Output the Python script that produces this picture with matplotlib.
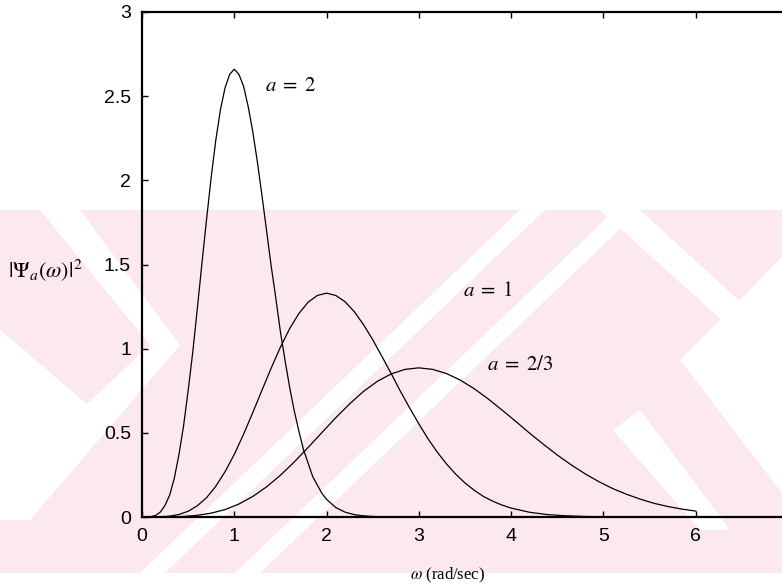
import matplotlib
matplotlib.use('Agg')
import matplotlib.pyplot as plt
from matplotlib.patches import Rectangle, Polygon

plt.rcParams['mathtext.fontset'] = 'stix'
plt.rcParams['font.family'] = 'Liberation Sans'

# curve values
w_a2 = [0.0, 0.1, 0.15, 0.2, 0.25, 0.3, 0.35, 0.4, 0.45, 0.5, 0.55, 0.6, 0.65, 0.7, 0.75, 0.8, 0.85,
        0.9, 0.95, 1.0, 1.05, 1.1, 1.15, 1.2, 1.25, 1.3, 1.35, 1.4, 1.45, 1.5, 1.55, 1.6, 1.65,
        1.7, 1.75, 1.8, 1.85, 1.9, 1.95, 2.0, 2.1, 2.2, 2.3, 2.4, 2.5, 2.6, 3.0, 4.0, 5.0, 6.0]
y_a2 = [0.0, 0.002, 0.01, 0.03, 0.07, 0.13, 0.23, 0.37, 0.54, 0.75, 0.98, 1.24, 1.51, 1.77, 2.02, 2.24, 2.42,
        2.55, 2.63, 2.66, 2.63, 2.56, 2.44, 2.29, 2.11, 1.91, 1.70, 1.49, 1.30, 1.10, 0.93, 0.77, 0.63,
        0.51, 0.40, 0.32, 0.24, 0.19, 0.14, 0.105, 0.056, 0.029, 0.014, 0.007, 0.003, 0.001, 0.0, 0.0, 0.0, 0.0]

w_a1 = [0.0, 0.1, 0.2, 0.3, 0.4, 0.5, 0.6, 0.7, 0.8, 0.9, 1.0, 1.1, 1.2, 1.3, 1.4, 1.5, 1.6, 1.7,
        1.8, 1.9, 2.0, 2.1, 2.2, 2.3, 2.4, 2.5, 2.6, 2.7, 2.8, 2.9, 3.0, 3.1, 3.2, 3.3, 3.4, 3.5,
        3.6, 3.7, 3.8, 3.9, 4.0, 4.2, 4.4, 4.6, 4.8, 5.0, 5.5, 6.0]
y_a1 = [0.0, 0.0, 0.001, 0.005, 0.015, 0.034, 0.067, 0.115, 0.183, 0.269, 0.372, 0.491, 0.62, 0.753, 0.885, 1.009, 1.119, 1.209,
        1.276, 1.316, 1.33, 1.316, 1.279, 1.22, 1.143, 1.053, 0.954, 0.852, 0.747, 0.648, 0.553, 0.464, 0.385, 0.315, 0.254, 0.202,
        0.159, 0.122, 0.094, 0.071, 0.053, 0.028, 0.014, 0.007, 0.003, 0.001, 0.0, 0.0]

w_a23 = [0.0, 0.15, 0.3, 0.45, 0.6, 0.75, 0.9, 1.05, 1.2, 1.35, 1.5, 1.65, 1.8, 1.95, 2.1, 2.25, 2.4,
         2.55, 2.7, 2.85, 3.0, 3.15, 3.3, 3.45, 3.6, 3.75, 3.9, 4.05, 4.2, 4.35, 4.5, 4.65, 4.8,
         4.95, 5.1, 5.25, 5.4, 5.55, 5.7, 5.85, 6.0]
y_a23 = [0.0, 0.0, 0.001, 0.003, 0.01, 0.023, 0.044, 0.077, 0.122, 0.179, 0.248, 0.327, 0.413, 0.502, 0.59, 0.672, 0.746,
         0.806, 0.85, 0.877, 0.886, 0.877, 0.852, 0.813, 0.762, 0.702, 0.636, 0.568, 0.498, 0.432, 0.368, 0.31, 0.257,
         0.21, 0.169, 0.135, 0.106, 0.081, 0.062, 0.047, 0.035]

xticks = [0, 1, 2, 3, 4, 5, 6]
yticks = [0, 0.5, 1, 1.5, 2, 2.5, 3]
ytick_labels = ['0', '0.5', '1', '1.5', '2', '2.5', '3']

W, H = 782, 586
fig = plt.figure(figsize=(W / 100, H / 100), dpi=100)

# pink watermark of the scan, behind the plot
def fp(x, y):
    return (x / W, 1 - y / H)

pink = Rectangle(fp(0, 573), 1, (573 - 210) / H, transform=fig.transFigure,
                 facecolor='#fce9ed', edgecolor='none', zorder=0)
fig.patches.append(pink)
stripes = [
    [(40, 210), (80, 210), (180, 345), (150, 345)],
    [(150, 345), (180, 345), (30, 520), (0, 520), (0, 485)],
    [(0, 330), (100, 415), (0, 500)],
    [(140, 573), (165, 573), (545, 210), (520, 210)],
    [(235, 573), (260, 573), (640, 210), (615, 210)],
    [(600, 210), (640, 210), (782, 340), (782, 375)],
    [(680, 360), (782, 257), (782, 493)],
    [(613, 430), (640, 410), (730, 530), (700, 530)],
]
for s in stripes:
    poly = Polygon([fp(x, y) for x, y in s], closed=True, transform=fig.transFigure,
                   facecolor='white', edgecolor='none', zorder=0.5)
    poly.set_clip_path(pink)
    fig.patches.append(poly)

ax = fig.add_axes([142 / W, (H - 517) / H, 646 / W, 505 / H])
ax.set_zorder(2)
ax.patch.set_alpha(0)

ax.plot(w_a2, y_a2, color='black', linewidth=0.9)
ax.plot(w_a1, y_a1, color='black', linewidth=0.9)
ax.plot(w_a23, y_a23, color='black', linewidth=0.9)

ax.set_xlim(0, 7)
ax.set_ylim(0, 3)
ax.set_xticks(xticks)
ax.set_yticks(yticks)
ax.set_yticklabels(ytick_labels)
ax.tick_params(direction='in', length=4, width=1, top=True, right=True,
               labelsize=14, pad=8)
for sp in ax.spines.values():
    sp.set_linewidth(1.6)

ax.text(1.33, 2.53, r'$a\;=\;2$', fontsize=15)
ax.text(3.48, 1.31, r'$a\;=\;1$', fontsize=15)
ax.text(3.74, 0.875, r'$a\;=\;2/3$', fontsize=15)

fig.text(8 / W, 1 - 270 / H, r'$|\Psi_a(\omega)|^2$', fontsize=16, va='center', ha='left')
fig.text(448 / W, 1 - 575 / H, r'$\omega$ (rad/sec)', fontsize=12, ha='center', va='center',
         family='Liberation Serif')

fig.savefig('out.png', dpi=100)
